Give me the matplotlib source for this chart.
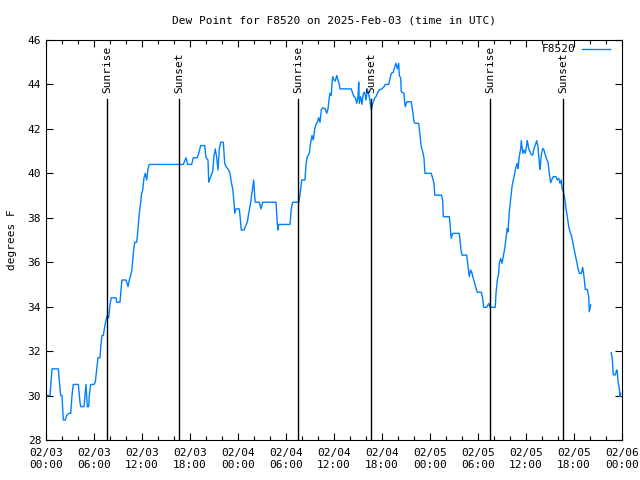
import datetime as dt
import numpy as np
from matplotlib import pyplot as plt
import matplotlib.dates as mdates
from matplotlib.ticker import MultipleLocator

# hours since 2025-02-03 00:00 UTC and dew point (F); nan marks the gap in the record
hours = [0.16, 0.5, 0.75, 1.54, 1.75, 1.84, 2.0, 2.16, 2.41, 2.59, 2.84, 3.09, 3.25, 3.41,
         4.04, 4.25, 4.34, 4.75, 4.88, 5.0, 5.16, 5.34, 5.41, 5.59, 6.0, 6.16, 6.34, 6.5,
         6.75, 6.84, 7.0, 7.16, 7.34, 7.5, 7.66, 7.84, 8.0, 8.16, 8.75, 8.84, 9.25, 9.41,
         9.5, 10.0, 10.25, 10.41, 10.59, 10.75, 10.91, 11.09, 11.34, 11.5, 11.66, 11.84,
         11.91, 12.09, 12.25, 12.41, 12.59, 12.75, 12.91, 17.16, 17.5, 17.71, 18.21, 18.41,
         18.91, 19.09, 19.34, 19.84, 20.0, 20.25, 20.34, 20.59, 20.84, 21.0, 21.16, 21.34,
         21.5, 21.66, 21.84, 22.16, 22.34, 22.5, 22.84, 23.0, 23.16, 23.34, 23.5, 23.59,
         23.75, 24.16, 24.25, 24.34, 24.41, 24.75, 24.91, 25.16, 25.34, 25.5, 25.66, 25.84,
         25.96, 26.09, 26.16, 26.66, 26.87, 27.09, 28.75, 28.91, 29.0, 29.09, 30.5, 30.66,
         30.84, 31.62, 31.84, 31.96, 32.37, 32.5, 32.66, 32.91, 33.09, 33.25, 33.41, 33.59,
         33.75, 33.91, 34.09, 34.25, 34.41, 34.59, 34.91, 35.09, 35.25, 35.41, 35.5, 35.66,
         35.75, 35.84, 36.0, 36.16, 36.34, 36.5, 36.66, 36.75, 38.16, 38.34, 38.5, 38.66,
         38.84, 39.0, 39.09, 39.16, 39.34, 39.5, 39.66, 39.84, 40.0, 40.16, 40.41, 40.59,
         40.66, 40.84, 41.09, 41.25, 41.41, 41.66, 42.0, 42.25, 42.41, 42.84, 43.0, 43.16,
         43.41, 43.59, 43.75, 43.91, 44.09, 44.16, 44.34, 44.41, 44.75, 44.84, 44.91, 45.09,
         45.66, 45.84, 46.0, 46.16, 46.59, 46.75, 46.91, 47.09, 47.25, 47.37, 48.16, 48.34,
         48.5, 48.59, 49.46, 49.59, 49.66, 50.41, 50.5, 50.59, 50.66, 50.84, 51.66, 51.75,
         51.87, 52.0, 52.59, 52.66, 52.79, 52.91, 53.09, 53.25, 53.41, 53.59, 53.75, 53.91,
         54.41, 54.59, 54.71, 55.09, 55.34, 55.5, 56.16, 56.25, 56.41, 56.59, 56.66, 56.84,
         57.0, 57.16, 57.34, 57.5, 57.66, 57.75, 57.91, 58.09, 58.25, 58.41, 58.59, 58.75,
         58.91, 59.0, 59.16, 59.34, 59.41, 59.59, 59.75, 59.91, 60.09, 60.16, 60.34, 60.5,
         60.66, 60.84, 61.0, 61.16, 61.34, 61.5, 61.66, 61.75, 61.91, 62.09, 62.25, 62.41,
         62.59, 62.75, 62.91, 63.09, 63.25, 63.41, 63.75, 63.91, 64.09, 64.25, 64.41, 64.5,
         64.66, 64.84, 65.0, 65.16, 65.34, 65.5, 65.66, 65.84, 66.0, 66.16, 66.34, 66.5,
         66.66, 66.91, 67.09, 67.25, 67.41, 67.66, 67.84, 67.91, 68.09, 69.4,
         70.66, 70.79, 70.91, 71.16, 71.34, 71.41, 71.5, 71.66, 71.75, 71.84]
dewpoint = [30.0, 30.0, 31.2, 31.2, 30.3, 30.0, 30.0, 28.9, 28.9, 29.1, 29.2, 29.2, 30.0, 30.5,
            30.5, 29.7, 29.5, 29.5, 30.0, 30.5, 29.5, 29.5, 30.0, 30.5, 30.5, 30.6, 31.2, 31.7,
            31.7, 32.2, 32.7, 32.7, 33.1, 33.4, 33.6, 33.5, 34.1, 34.4, 34.4, 34.2, 34.2, 34.9,
            35.2, 35.2, 34.9, 35.2, 35.4, 35.7, 36.4, 36.9, 36.9, 37.5, 38.2, 38.7,
            39.0, 39.25, 39.8, 40.0, 39.7, 40.2, 40.4, 40.4, 40.7, 40.4, 40.4, 40.7,
            40.7, 40.9, 41.25, 41.25, 40.7, 40.6, 39.6, 39.85, 40.1, 40.8, 41.1, 40.7,
            40.15, 41.1, 41.4, 41.4, 40.45, 40.3, 40.15, 40.0, 39.6, 39.3, 38.7, 38.2,
            38.4, 38.4, 38.1, 37.7, 37.45, 37.45, 37.6, 37.8, 38.2, 38.5, 38.9, 39.4,
            39.7, 38.95, 38.7, 38.7, 38.4, 38.7, 38.7, 37.75, 37.45, 37.7, 37.7, 38.4,
            38.7, 38.7, 39.3, 39.7, 39.7, 40.4, 40.75, 40.9, 41.4, 41.7, 41.5, 42.0,
            42.2, 42.3, 42.5, 42.3, 42.85, 42.95, 42.9, 42.7, 42.9, 43.4, 43.6, 43.5,
            44.05, 44.35, 44.2, 44.15, 44.4, 44.2, 44.0, 43.8, 43.8, 43.6, 43.45, 43.4,
            43.15, 43.45, 44.1, 43.15, 43.45, 43.1, 43.6, 43.65, 43.3, 43.8, 43.45, 43.0,
            42.85, 43.15, 43.4, 43.45, 43.6, 43.75, 43.8, 43.9, 44.0, 44.0, 44.27, 44.5,
            44.55, 44.8, 44.95, 44.7, 44.95, 44.42, 44.27, 43.67, 43.6, 43.15, 43.0, 43.22,
            43.22, 42.77, 42.32, 42.25, 42.25, 41.72, 41.2, 40.97, 40.68, 40.0, 40.0, 39.77,
            39.55, 39.02, 39.02, 38.72, 38.05, 38.05, 37.75, 37.3, 37.07, 37.3, 37.3, 37.0,
            36.55, 36.32, 36.32, 36.1, 35.72, 35.35, 35.65, 35.5, 35.28, 35.05, 34.82, 34.65,
            34.65, 34.37, 33.97, 33.97, 34.15, 33.97, 33.97, 34.6, 35.2, 35.5, 35.95, 36.17,
            35.95, 36.25, 36.62, 37.07, 37.52, 37.37, 38.27, 38.87, 39.4, 39.7, 40.0, 40.3,
            40.45, 40.22, 40.75, 41.12, 41.47, 40.9, 41.05, 40.9, 41.27, 41.47, 41.12, 40.97,
            40.83, 40.83, 41.12, 41.27, 41.47, 41.2, 40.45, 40.18, 40.83, 41.12, 41.05, 40.83,
            40.63, 40.52, 40.0, 39.58, 39.73, 39.85, 39.85, 39.7, 39.78, 39.55, 39.7, 39.33,
            39.17, 38.87, 38.42, 38.05, 37.6, 37.37, 37.22, 36.92, 36.62, 36.32, 36.02, 35.72,
            35.5, 35.5, 35.77, 35.35, 34.78, 34.78, 34.45, 33.77, 34.08, np.nan,
            31.93, 31.63, 30.93, 30.93, 31.15, 31.1, 30.62, 30.32, 29.95, 30.1]

# sunrise / sunset marks, hours since start
sun_hours = [7.66, 16.66, 31.54, 40.66, 55.54, 64.66]
sun_labels = ['Sunrise', 'Sunset', 'Sunrise', 'Sunset', 'Sunrise', 'Sunset']

start = dt.datetime(2025, 2, 3)


def to_time(h):
	return start + dt.timedelta(hours=h)


plt.rcParams['font.family'] = 'DejaVu Sans Mono'
plt.rcParams['font.size'] = 8

fig = plt.figure(figsize=(6.4, 4.8), dpi=100)
ax = fig.add_axes([46 / 640, 40 / 480, 576 / 640, 400 / 480])

times = [to_time(h) for h in hours]
ax.plot(times, dewpoint, color='#0080ff', linewidth=1.0, label='F8520')

for h, lab in zip(sun_hours, sun_labels):
	t = to_time(h)
	ax.axvline(t, ymin=0, ymax=0.8525, color='black', linewidth=1.0)
	ax.text(t, 0.8675, lab, transform=ax.get_xaxis_transform(),
			rotation=90, ha='center', va='bottom', fontsize=8)

ax.set_xlim(start, to_time(72))
ax.set_ylim(28, 46)
ax.yaxis.set_major_locator(MultipleLocator(2))
ax.xaxis.set_major_locator(mdates.HourLocator(byhour=range(0, 24, 6)))
ax.xaxis.set_minor_locator(mdates.HourLocator(byhour=range(0, 24, 2)))
ax.xaxis.set_major_formatter(mdates.DateFormatter('%m/%d\n%H:%M'))

ax.tick_params(which='both', direction='in', top=True, right=True, labelsize=8)
ax.tick_params(which='major', length=5, width=0.8)
ax.tick_params(which='minor', length=3, width=0.8)
ax.tick_params(axis='x', pad=6)

ax.set_title('Dew Point for F8520 on 2025-Feb-03 (time in UTC)', fontsize=8, pad=12)
ax.set_ylabel('degrees F', fontsize=8, labelpad=8)

leg = ax.legend(loc='upper right', bbox_to_anchor=(0.987, 1.0), frameon=False,
				markerfirst=False, handlelength=2.5, handletextpad=0.6,
				borderaxespad=0.0, borderpad=0.4, fontsize=8)

fig.savefig('out.png', dpi=100)
